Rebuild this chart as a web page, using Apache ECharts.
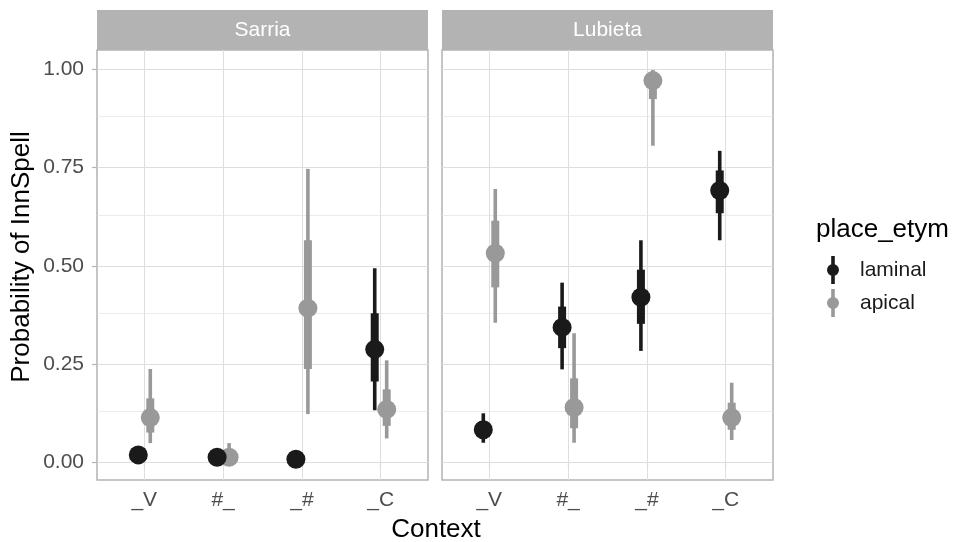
<!DOCTYPE html>
<html>
<head>
<meta charset="utf-8">
<script src="https://cdn.jsdelivr.net/npm/echarts@6/dist/echarts.min.js"></script>
<style>
html,body{margin:0;padding:0;background:#fff;}
#chart{width:957px;height:542px;}
</style>
</head>
<body>
<div id="chart"></div>
<script>
// ---- data ----
const categories = ['_V', '#_', '_#', '_C'];
const facets = ['Sarria', 'Lubieta'];
const groups = ['laminal', 'apical'];
const yTicks = [0, 0.25, 0.5, 0.75, 1.0];
const yMinorTicks = [0.125, 0.375, 0.625, 0.875];
// each row: [estimate, lo66, hi66, lo95, hi95] per category
const sarriaLaminal = [
  [0.018, 0.012, 0.026, 0.007, 0.040],
  [0.012, 0.007, 0.019, 0.003, 0.032],
  [0.007, 0.003, 0.012, 0.001, 0.024],
  [0.287, 0.205, 0.379, 0.132, 0.494]
];
const sarriaApical = [
  [0.113, 0.075, 0.162, 0.048, 0.237],
  [0.012, 0.005, 0.024, 0.002, 0.048],
  [0.392, 0.237, 0.565, 0.122, 0.747],
  [0.134, 0.092, 0.185, 0.060, 0.259]
];
const lubietaLaminal = [
  [0.082, 0.065, 0.102, 0.049, 0.124],
  [0.343, 0.290, 0.396, 0.236, 0.457],
  [0.420, 0.352, 0.490, 0.283, 0.565],
  [0.692, 0.634, 0.743, 0.565, 0.793]
];
const lubietaApical = [
  [0.532, 0.445, 0.615, 0.355, 0.696],
  [0.139, 0.086, 0.213, 0.049, 0.328],
  [0.972, 0.925, 0.990, 0.806, 0.999],
  [0.113, 0.082, 0.151, 0.056, 0.202]
];

// ---- styling ----
const FONT = '"Liberation Sans", Arial, Helvetica, sans-serif';
const colors = { laminal: '#1a1a1a', apical: '#999999' };
const dodge = { laminal: -0.076, apical: 0.076 };
const gridColor = '#dedede';
const frameColor = '#b3b3b3';
const tickLabelColor = '#4d4d4d';

function toData(rows) {
  return rows.map((r, i) => [i + 1, r[0], r[1], r[2], r[3], r[4]]);
}

function makeRender(group) {
  const c = colors[group];
  const off = dodge[group];
  return function (params, api) {
    const x = api.value(0) + off;
    const p = api.coord([x, api.value(1)]);
    const a66 = api.coord([x, api.value(2)]);
    const b66 = api.coord([x, api.value(3)]);
    const a95 = api.coord([x, api.value(4)]);
    const b95 = api.coord([x, api.value(5)]);
    return {
      type: 'group',
      children: [
        { type: 'line', shape: { x1: p[0], y1: a95[1], x2: p[0], y2: b95[1] }, style: { stroke: c, lineWidth: 3.6, lineCap: 'butt' } },
        { type: 'line', shape: { x1: p[0], y1: a66[1], x2: p[0], y2: b66[1] }, style: { stroke: c, lineWidth: 8, lineCap: 'butt' } },
        { type: 'circle', shape: { cx: p[0], cy: p[1], r: 9.5 }, style: { fill: c } }
      ]
    };
  };
}

function gridMarkLine() {
  const d = [];
  yTicks.forEach(v => d.push({ yAxis: v, lineStyle: { color: gridColor, width: 1 } }));
  yMinorTicks.forEach(v => d.push({ yAxis: v, lineStyle: { color: '#e6e6e6', width: 0.8 } }));
  categories.forEach((c, i) => d.push({ xAxis: i + 1, lineStyle: { color: gridColor, width: 1 } }));
  return {
    silent: true, symbol: ['none', 'none'], z: 1, animation: false,
    label: { show: false }, emphasis: { disabled: true },
    lineStyle: { type: 'solid' },
    data: d
  };
}

const panelLefts = [97, 442];
const panelWidth = 331;
const panelTop = 50;
const panelHeight = 430;

const grids = panelLefts.map(l => ({
  left: l, top: panelTop, width: panelWidth, height: panelHeight,
  show: true, borderColor: frameColor, borderWidth: 1.5, backgroundColor: 'transparent'
}));

const xAxes = [0, 1].map(i => ({
  type: 'value', gridIndex: i, min: 0.4, max: 4.6,
  axisLine: { show: false },
  splitLine: { show: false },
  axisTick: { show: true, customValues: [1, 2, 3, 4], length: 5, lineStyle: { color: frameColor, width: 1.2 } },
  axisLabel: {
    show: true, customValues: [1, 2, 3, 4], margin: 10,
    formatter: v => categories[Math.round(v) - 1] || '',
    color: tickLabelColor, fontSize: 21, fontFamily: FONT
  }
}));

const yAxes = [0, 1].map(i => ({
  type: 'value', gridIndex: i, min: -0.046, max: 1.05,
  axisLine: { show: false },
  splitLine: { show: false },
  axisTick: { show: i === 0, customValues: yTicks, length: 5, lineStyle: { color: frameColor, width: 1.2 } },
  axisLabel: {
    show: i === 0, customValues: yTicks, margin: 13,
    formatter: v => v.toFixed(2),
    color: tickLabelColor, fontSize: 21, fontFamily: FONT
  }
}));

const facetData = [
  { laminal: sarriaLaminal, apical: sarriaApical },
  { laminal: lubietaLaminal, apical: lubietaApical }
];

const series = [];
facetData.forEach((fd, i) => {
  series.push({
    name: 'apical', type: 'custom', xAxisIndex: i, yAxisIndex: i, z: 3,
    itemStyle: { color: colors.apical },
    renderItem: makeRender('apical'),
    encode: { x: 0, y: 1 },
    data: toData(fd.apical),
    markLine: gridMarkLine(),
    animation: false
  });
  series.push({
    name: 'laminal', type: 'custom', xAxisIndex: i, yAxisIndex: i, z: 4,
    itemStyle: { color: colors.laminal },
    renderItem: makeRender('laminal'),
    encode: { x: 0, y: 1 },
    data: toData(fd.laminal),
    animation: false
  });
});

// vertical interval line with a dot in its middle (non-overlapping pieces)
const legendIcon = 'path://M4.2,0 L7.8,0 L7.8,8.5 L4.2,8.5 Z M0,14 A6,6 0 1,1 12,14 A6,6 0 1,1 0,14 Z M4.2,19.5 L7.8,19.5 L7.8,28 L4.2,28 Z';

const graphics = [];
facets.forEach((f, i) => {
  graphics.push({
    type: 'rect', left: panelLefts[i], top: 10, z: 10,
    shape: { width: panelWidth, height: 40 }, style: { fill: frameColor }
  });
  graphics.push({
    type: 'text', x: panelLefts[i] + panelWidth / 2, y: 30, z: 11,
    style: { text: f, fill: '#ffffff', font: '21px ' + FONT, textAlign: 'center', textVerticalAlign: 'middle' }
  });
});
graphics.push({
  type: 'text', x: 22, y: 257, rotation: Math.PI / 2,
  style: { text: 'Probability of InnSpell', fill: '#000000', font: '26px ' + FONT, textAlign: 'center', textVerticalAlign: 'middle' }
});
graphics.push({
  type: 'text', x: 436, y: 530,
  style: { text: 'Context', fill: '#000000', font: '26px ' + FONT, textAlign: 'center', textVerticalAlign: 'middle' }
});
graphics.push({
  type: 'text', x: 816, y: 230,
  style: { text: 'place_etym', fill: '#000000', font: '26px ' + FONT, textAlign: 'left', textVerticalAlign: 'middle' }
});

const option = {
  backgroundColor: '#ffffff',
  animation: false,
  textStyle: { fontFamily: FONT },
  grid: grids,
  xAxis: xAxes,
  yAxis: yAxes,
  legend: {
    data: groups,
    orient: 'vertical',
    left: 822, top: 251,
    itemWidth: 44, itemHeight: 28, itemGap: 5,
    icon: legendIcon,
    selectedMode: false,
    textStyle: { fontSize: 21, color: '#1a1a1a', fontFamily: FONT }
  },
  graphic: graphics,
  series: series
};

const chart = echarts.init(document.getElementById('chart'), null, { renderer: 'canvas' });
chart.setOption(option);
</script>
</body>
</html>
